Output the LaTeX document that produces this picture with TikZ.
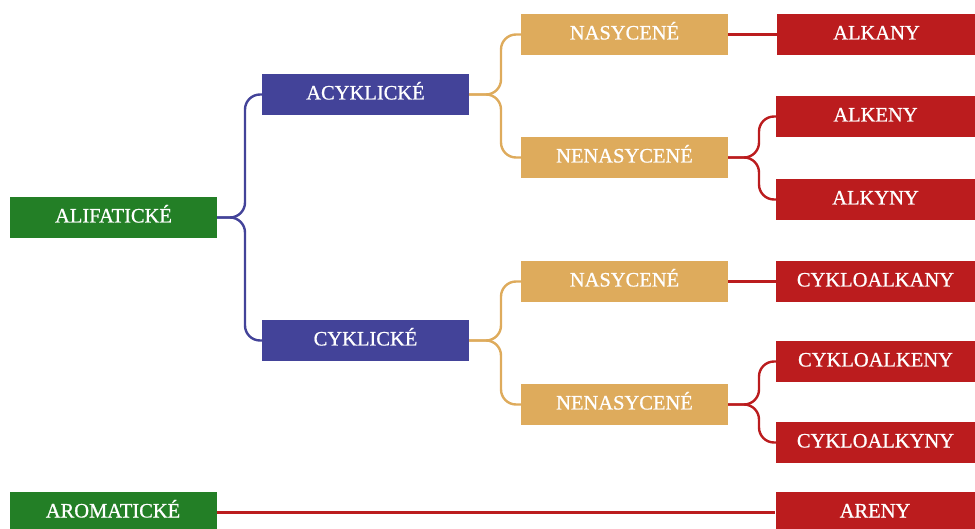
\documentclass[tikz,border=0pt]{standalone}
\usepackage{fontspec}
\setmainfont{Liberation Serif}
\definecolor{cgreen}{HTML}{237F26}
\definecolor{cblue}{HTML}{434399}
\definecolor{corange}{HTML}{DEAB5C}
\definecolor{cred}{HTML}{BB1C1E}
\tikzset{
  box/.style={minimum width=207pt, minimum height=41pt, inner sep=0pt, text=white,
    text height=14pt, text depth=4pt,
    font=\addfontfeature{FakeBold=0.8}\fontsize{20.5}{20.5}\selectfont, anchor=center},
  gbox/.style={box, fill=cgreen},
  bbox/.style={box, fill=cblue},
  obox/.style={box, fill=corange},
  rbox/.style={box, fill=cred, minimum width=199pt},
  conn/.style={line width=2.4pt, rounded corners=15pt},
}
\begin{document}
\begin{tikzpicture}[x=1pt,y=-1pt]
\useasboundingbox (0,0) rectangle (975,529);
\node[gbox] (ali) at (113.5,217.5) {ALIFATICKÉ};
\node[bbox] (acy) at (365.5,94.5) {ACYKLICKÉ};
\node[bbox] (cyk) at (365.5,340.5) {CYKLICKÉ};
\node[obox] (nas1) at (624.5,34.5) {NASYCENÉ};
\node[obox] (nen1) at (624.5,157.5) {NENASYCENÉ};
\node[obox] (nas2) at (624.5,281.5) {NASYCENÉ};
\node[obox] (nen2) at (624.5,404.5) {NENASYCENÉ};
\node[rbox] (alkany) at (876.5,34.5) {ALKANY};
\node[rbox] (alkeny) at (875.5,116.5) {ALKENY};
\node[rbox] (alkyny) at (875.5,199.5) {ALKYNY};
\node[rbox] (cak) at (875.5,281.5) {CYKLOALKANY};
\node[rbox] (cae) at (875.5,361.5) {CYKLOALKENY};
\node[rbox] (cay) at (875.5,442.5) {CYKLOALKYNY};
\node[gbox] (aro) at (113,512.5) {AROMATICKÉ};
\node[rbox] (are) at (875,512.5) {ARENY};
% connectors
\draw[conn, cblue] (ali.east) -- (245,217.5) -- (245,94.5) -- (acy.west);
\draw[conn, cblue] (ali.east) -- (245,217.5) -- (245,340.5) -- (cyk.west);
\draw[conn, corange] (acy.east) -- (501,94.5) -- (501,34.5) -- (nas1.west);
\draw[conn, corange] (acy.east) -- (501,94.5) -- (501,157.5) -- (nen1.west);
\draw[conn, corange] (cyk.east) -- (501,340.5) -- (501,281.5) -- (nas2.west);
\draw[conn, corange] (cyk.east) -- (501,340.5) -- (501,404.5) -- (nen2.west);
\draw[conn, cred] (nas1.east) -- (alkany.west);
\draw[conn, cred] (nen1.east) -- (759,157.5) -- (759,116.5) -- (alkeny.west);
\draw[conn, cred] (nen1.east) -- (759,157.5) -- (759,199.5) -- (alkyny.west);
\draw[conn, cred] (nas2.east) -- (cak.west);
\draw[conn, cred] (nen2.east) -- (759,404.5) -- (759,361.5) -- (cae.west);
\draw[conn, cred] (nen2.east) -- (759,404.5) -- (759,442.5) -- (cay.west);
\draw[conn, cred] (aro.east) -- (are.west);
\end{tikzpicture}
\end{document}
